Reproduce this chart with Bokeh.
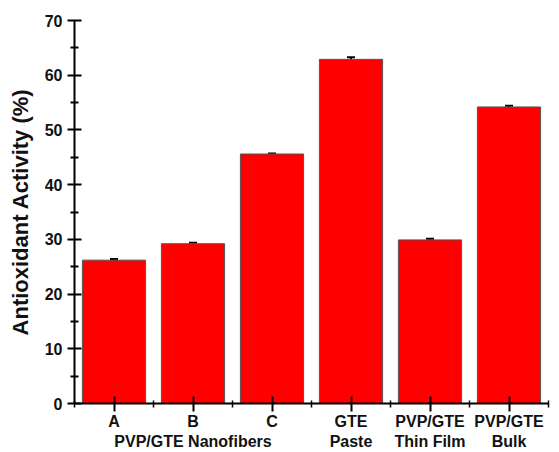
from bokeh.plotting import figure
from bokeh.models import FixedTicker, Range1d, Whisker, ColumnDataSource, TeeHead
from bokeh.embed import file_html
from bokeh.resources import INLINE

categories = ["A", "B", "C", "GTE\nPaste", "PVP/GTE\nThin Film", "PVP/GTE\nBulk"]
values = [26.2, 29.2, 45.6, 62.9, 29.9, 54.2]
errors = [0.2, 0.2, 0.1, 0.4, 0.2, 0.2]
group_label = "PVP/GTE Nanofibers"   # spans A, B, C; centred under B
group_index = 1
y_ticks = [0, 10, 20, 30, 40, 50, 60, 70]
y_minor = [5, 15, 25, 35, 45, 55, 65]
y_label = "Antioxidant Activity (%)"

xs = list(range(1, len(categories) + 1))
tick_labels = list(categories)
tick_labels[group_index] = tick_labels[group_index] + "\n" + group_label

src = ColumnDataSource(dict(x=xs, top=values,
                            lo=[v - e for v, e in zip(values, errors)],
                            hi=[v + e for v, e in zip(values, errors)]))

FONT = "Liberation Sans"
TXT = "#111111"

p = figure(width=559, height=452,
           x_range=Range1d(0.5, 6.5), y_range=Range1d(0, 70),
           output_backend="svg", toolbar_location=None,
           min_border_left=74, min_border_top=20, min_border_right=11, min_border_bottom=48)
p.outline_line_color = None
p.xgrid.visible = False
p.ygrid.visible = False
p.background_fill_color = "white"
p.border_fill_color = "white"

p.vbar(x="x", top="top", width=0.8, source=src, fill_color="#ff0000",
       line_color="#555555", line_width=1)
w = Whisker(base="x", lower="lo", upper="hi", source=src, line_color="black", line_width=2,
            upper_head=TeeHead(size=8, line_color="black", line_width=2),
            lower_head=TeeHead(size=8, line_color="black", line_width=2))
p.add_layout(w)

# y axis
ya = p.yaxis[0]
ya.ticker = FixedTicker(ticks=y_ticks, minor_ticks=y_minor)
ya.axis_line_width = 2
ya.major_tick_in = 7
ya.major_tick_out = 7
ya.major_tick_line_width = 2
ya.minor_tick_in = 4
ya.minor_tick_out = 4
ya.minor_tick_line_width = 2
ya.major_label_text_font = FONT
ya.major_label_text_font_style = "bold"
ya.major_label_text_font_size = "16px"
ya.major_label_text_color = TXT
ya.major_label_standoff = 5
ya.axis_label = y_label
ya.axis_label_text_font = FONT
ya.axis_label_text_font_style = "bold"
ya.axis_label_text_font_size = "22px"
ya.axis_label_text_color = TXT
ya.axis_label_standoff = 9

# x axis
xa = p.xaxis[0]
xa.ticker = FixedTicker(ticks=xs, minor_ticks=[0.5, 1.5, 2.5, 3.5, 4.5, 5.5, 6.5])
xa.major_label_overrides = {x: c for x, c in zip(xs, tick_labels)}
xa.axis_line_width = 2
xa.major_tick_in = 7
xa.major_tick_out = 8
xa.major_tick_line_width = 2
xa.minor_tick_in = 3
xa.minor_tick_out = 4
xa.minor_tick_line_width = 1.5
xa.major_label_text_font = FONT
xa.major_label_text_font_style = "bold"
xa.major_label_text_font_size = "16px"
xa.major_label_text_color = TXT
xa.major_label_standoff = 1

open("out.html", "w").write(file_html(p, INLINE))
